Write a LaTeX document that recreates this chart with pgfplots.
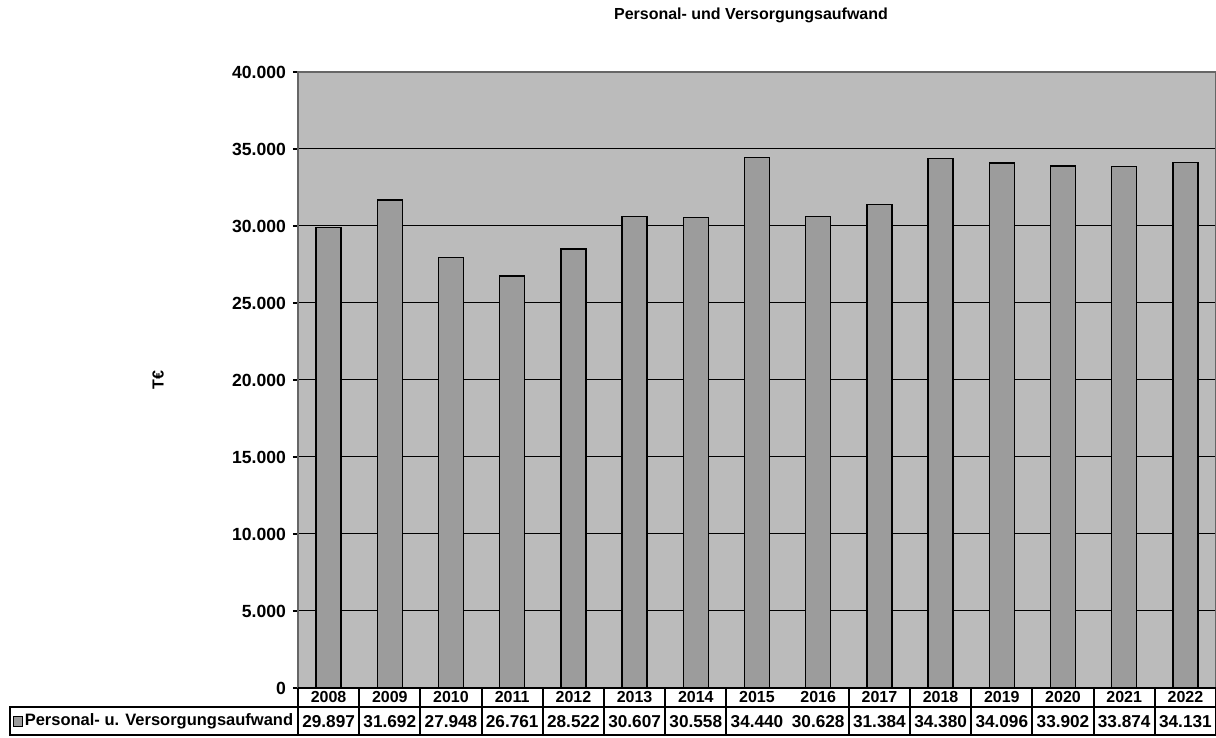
\documentclass[border=0pt]{standalone}
\usepackage{fontspec}
\setmainfont{Liberation Sans}
\usepackage{pgfplots}
\usepackage{pgfplotstable}
\pgfplotsset{compat=1.18}
\definecolor{PlotBg}{HTML}{BBBBBB}
\definecolor{BarGray}{HTML}{9C9C9C}

% Personal- und Versorgungsaufwand in T€
\pgfplotstableread{
x value
0 29897
1 31692
2 27948
3 26761
4 28522
5 30607
6 30558
7 34440
8 30628
9 31384
10 34380
11 34096
12 33902
13 33874
14 34131
}\aufwand

\begin{document}
\begin{tikzpicture}
\path[use as bounding box] (-149pt,-25pt) rectangle (459pt,344pt);
\begin{axis}[
    at={(0pt,0pt)}, anchor=south west,
    scale only axis,
    width=459pt, height=308pt,
    xmin=-0.5, xmax=14.5,
    ymin=0, ymax=40000,
    clip=false,
    axis background/.style={fill=PlotBg},
    axis line style={draw=black!60, line width=0.6pt},
    ytick={0,5000,...,40000},
    ytick pos=left,
    ymajorgrids,
    grid style={black, line width=0.5pt},
    scaled y ticks=false,
    tick align=outside,
    major tick length=2.5pt,
    major y tick style={black, line width=1pt},
    major x tick style={draw=none},
    xtick=data,
    xticklabels={2008,2009,2010,2011,2012,2013,2014,2015,2016,2017,2018,2019,2020,2021,2022},
    xticklabel style={anchor=center, yshift=-1.9pt, inner sep=0pt,
        font=\bfseries\fontsize{8}{9}\selectfont},
    yticklabel style={font=\bfseries\fontsize{8.8}{10}\selectfont},
    /pgf/number format/.cd, fixed, precision=0, 1000 sep={.}, assume math mode=true,
]
    \addplot[ybar, bar width=12.5pt, fill=BarGray, draw=black, line width=0.75pt]
        table[x=x, y=value] {\aufwand};

    % value row of the data table
    \addplot[draw=none, mark=none, nodes near coords, point meta=explicit,
        every node near coord/.append style={anchor=center, inner sep=0pt,
            font=\bfseries\fontsize{8.6}{10}\selectfont}]
        table[x=x, y expr=-2175, meta=value] {\aufwand};
\end{axis}

% data table grid
\draw[line width=1pt] (0pt,0pt) -- (459pt,0pt);
\draw[line width=1pt] (0pt,-9.75pt) -- (459pt,-9.75pt);
\draw[line width=1pt] (-144pt,-9.75pt) rectangle (459pt,-23.5pt);
\foreach \i in {0,1,2,3,4,5,6,7,9,10,11,12,13,14,15}
    \draw[line width=1pt] (\i*30.6pt,0pt) -- (\i*30.6pt,-23.5pt);
\draw[fill=BarGray, line width=0.5pt] (-142.4pt,-14.4pt) rectangle (-137.6pt,-19.2pt);
\node[anchor=west, inner sep=0pt, font=\bfseries\fontsize{8.25}{10}\selectfont]
    at (-136.8pt,-16.75pt) {Personal- u. Versorgungsaufwand};

% title and y label
\node[font=\bfseries\fontsize{8}{10}\selectfont] at (226.5pt,336.5pt)
    {Personal- und Versorgungsaufwand};
\node[rotate=90, font=\bfseries\fontsize{8}{10}\selectfont] at (-70pt,154pt) {T€};
\end{tikzpicture}
\end{document}
